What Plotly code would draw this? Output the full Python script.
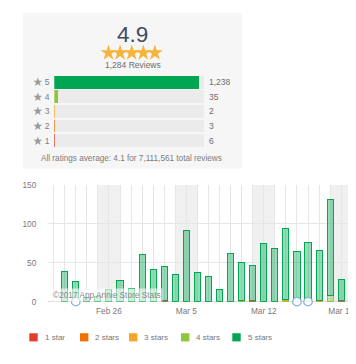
import plotly.graph_objects as go

# ---------------- data ----------------
avg_rating = 4.9
avg_rating_text = "4.9"
reviews_text = "1,284 Reviews"
star_levels = [5, 4, 3, 2, 1]
star_counts = [1238, 35, 2, 3, 6]
star_count_labels = ["1,238", "35", "2", "3", "6"]
total_reviews = 1284
footer_text = "All ratings average: 4.1 for 7,111,561 total reviews"

days = ["2017-02-22", "2017-02-23", "2017-02-24", "2017-02-25", "2017-02-26",
        "2017-02-27", "2017-02-28", "2017-03-01", "2017-03-02", "2017-03-03",
        "2017-03-04", "2017-03-05", "2017-03-06", "2017-03-07", "2017-03-08",
        "2017-03-09", "2017-03-10", "2017-03-11", "2017-03-12", "2017-03-13",
        "2017-03-14", "2017-03-15", "2017-03-16", "2017-03-17", "2017-03-18",
        "2017-03-19", "2017-03-20"]
one_star = [0, 0, 0, 0, 0, 0, 0, 0, 0, 1, 0, 0, 0, 0, 0, 0, 0, 1, 0, 0, 0, 0, 0, 0, 0, 2, 0]
two_stars = [0, 0, 0, 0, 0, 0, 0, 0, 0, 0, 0, 0, 0, 0, 0, 0, 0, 1, 0, 0, 0, 0, 0, 0, 0, 0, 0]
three_stars = [0, 0, 0, 0, 0, 0, 0, 0, 0, 0, 0, 0, 0, 0, 0, 0, 0, 0, 0, 0, 1, 0, 0, 1, 0, 0, 0]
four_stars = [0, 0, 0, 0, 0, 0, 0, 0, 0, 0, 0, 0, 0, 0, 0, 0, 2, 0, 0, 0, 2, 0, 0, 1, 8, 0, 0]
five_stars = [39, 26, 5, 6, 15, 27, 17, 61, 41, 44, 35, 92, 37, 32, 15, 62, 48, 45, 75, 69,
              91, 64, 76, 64, 124, 26, 2]
series_names = ["1 star", "2 stars", "3 stars", "4 stars", "5 stars"]
series_values = [one_star, two_stars, three_stars, four_stars, five_stars]

weekend_starts = ["2017-02-25", "2017-03-04", "2017-03-11", "2017-03-18"]
weekend_ends = ["2017-02-27", "2017-03-06", "2017-03-13", "2017-03-20"]
event_dates = ["2017-02-23", "2017-03-15", "2017-03-16"]

x_tick_vals = ["2017-02-26", "2017-03-05", "2017-03-12", "2017-03-19"]
x_tick_labels = ["Feb 26", "Mar 5", "Mar 12", "Mar 19"]
y_tick_vals = [0, 50, 100, 150]

# ---------------- style ----------------
W, H = 356, 364
OFF = 8  # page body margin in the browser
FW, FH = W - OFF, H - OFF
FONT = "Liberation Sans, Arial, sans-serif"
colors = ["#e0402a", "#f07000", "#f6a623", "#8dc63f", "#00a651"]
fills = ["rgba(224,64,42,0.45)", "rgba(240,112,0,0.45)", "rgba(246,166,35,0.45)",
         "rgba(141,198,63,0.45)", "rgba(0,170,85,0.42)"]
level_color = {5: "#00a651", 4: "#8dc63f", 3: "#f6a623", 2: "#f07000", 1: "#e0402a"}


def px(x):
    return (x - OFF) / FW


def py(y):
    return 1 - (y - OFF) / FH


fig = go.Figure()

# daily stacked bars
DAY_MS = 86400000
for name, vals, c, f in zip(series_names, series_values, colors, fills):
    fig.add_trace(go.Bar(
        x=days, y=vals, name=name, xaxis="x", yaxis="y",
        width=0.55 * DAY_MS,
        marker=dict(color=f, line=dict(color=c, width=1)),
        showlegend=False, hoverinfo="skip"))

# version events
fig.add_trace(go.Scatter(
    x=event_dates, y=[0] * len(event_dates), mode="markers", xaxis="x", yaxis="y",
    marker=dict(symbol="circle", size=8.5, color="rgba(255,255,255,0.9)",
                line=dict(color="#8ab0dc", width=1.3)),
    cliponaxis=False, showlegend=False, hoverinfo="skip"))

# rating distribution bars (colored part + remaining track)
fig.add_trace(go.Bar(
    x=star_counts, y=star_levels, orientation="h", xaxis="x2", yaxis="y2",
    width=0.88, marker=dict(color=[level_color[l] for l in star_levels], line=dict(width=0)),
    showlegend=False, hoverinfo="skip"))
fig.add_trace(go.Bar(
    x=[total_reviews - c for c in star_counts], y=star_levels, orientation="h",
    xaxis="x2", yaxis="y2", width=0.88,
    marker=dict(color="#ebebeb", line=dict(width=0)),
    showlegend=False, hoverinfo="skip"))

# rating stars (rounded average)
n_stars = int(round(avg_rating))
fig.add_trace(go.Scatter(
    x=list(range(1, n_stars + 1)), y=[0] * n_stars, mode="markers",
    xaxis="x3", yaxis="y3",
    marker=dict(symbol="star", size=12, color="#f6b43a", line=dict(width=0)),
    cliponaxis=False, showlegend=False, hoverinfo="skip"))

shapes = []
# panel background
shapes.append(dict(type="rect", xref="paper", yref="paper", x0=px(23), x1=px(242),
                   y0=py(168), y1=py(8), fillcolor="#f6f6f6", line=dict(width=0),
                   layer="below"))
# weekend shading
for s, e in zip(weekend_starts, weekend_ends):
    shapes.append(dict(type="rect", xref="x", yref="y domain", x0=s, x1=e, y0=0, y1=1,
                       fillcolor="#f0f0f0", line=dict(width=0), layer="below"))


def ann(text, x, y, size, color, family=FONT, xanchor="center", **kw):
    d = dict(text=text, x=px(x), y=py(y), xref="paper", yref="paper",
             xanchor=xanchor, yanchor="middle", showarrow=False,
             font=dict(family=family, size=size, color=color))
    d.update(kw)
    return d


annotations = [
    ann(avg_rating_text, 132.5, 30.0, 22.5, "#3d4b5c"),
    ann(reviews_text, 132.5, 61.2, 8.5, "#6e6e6e"),
    ann(footer_text, 131.5, 157.5, 8.2, "#7c7c7c"),
    ann("©2017 App Annie Store Stats", 51, 298, 8.3, "#8a8a8a", xanchor="left",
        bgcolor="rgba(255,255,255,0.6)", borderpad=1),
]
for lvl, lab in zip(star_levels, star_count_labels):
    annotations.append(dict(text=lab, x=total_reviews, y=lvl, xref="x2", yref="y2",
                            xanchor="left", yanchor="middle", xshift=3, showarrow=False,
                            font=dict(family=FONT, size=8.5, color="#6e6e6e")))

# custom legend
legend_left = [29.3, 80, 129, 181, 232.3]
for left, name, c in zip(legend_left, series_names, colors):
    shapes.append(dict(type="rect", xref="paper", yref="paper", x0=px(left),
                       x1=px(left + 8.4), y0=py(345.9), y1=py(337.5), fillcolor=c,
                       line=dict(width=0)))
    annotations.append(ann(name, left + 13.2, 341.7, 8, "#777777", xanchor="left"))

star_ticks = ['<span style="color:#9a9a9a;font-family:Noto Sans CJK JP;font-size:9.5px">★</span> %d' % l
              for l in star_levels]

fig.update_layout(
    width=FW, height=FH, margin=dict(l=0, r=0, t=0, b=0),
    paper_bgcolor="white", plot_bgcolor="rgba(0,0,0,0)",
    barmode="stack", showlegend=False,
    font=dict(family=FONT, size=8.3, color="#7a7a7a"),
    shapes=shapes, annotations=annotations,
    xaxis=dict(domain=[px(48), 1], type="date", anchor="y",
               range=["2017-02-20 11:46", "2017-03-20 08:05"],
               tickvals=x_tick_vals, ticktext=x_tick_labels,
               ticks="outside", ticklen=1, tickcolor="rgba(0,0,0,0)",
               showgrid=True, gridcolor="#e6e6e6", gridwidth=1,
               minor=dict(dtick=DAY_MS, tick0="2017-02-20", showgrid=True,
                          gridcolor="#e6e6e6", gridwidth=1, ticks=""),
               zeroline=False, showline=False,
               tickfont=dict(family=FONT, size=8.3, color="#7a7a7a")),
    yaxis=dict(domain=[py(305), py(185)], range=[0, 150], anchor="x",
               tickvals=y_tick_vals, ticks="outside", ticklen=9,
               tickcolor="rgba(0,0,0,0)", showgrid=True, gridcolor="#e6e6e6",
               zeroline=True, zerolinecolor="#d9d9d9", zerolinewidth=1, showline=False,
               tickfont=dict(family=FONT, size=8.3, color="#7a7a7a")),
    xaxis2=dict(domain=[px(54.3), px(204)], range=[0, total_reviews], anchor="y2",
                visible=False, fixedrange=True),
    yaxis2=dict(domain=[py(146.8), py(71.8)], range=[0.5, 5.5], anchor="x2",
                tickvals=star_levels, ticktext=star_ticks, ticks="outside", ticklen=2,
                tickcolor="rgba(0,0,0,0)", showgrid=False, zeroline=False,
                showline=False,
                tickfont=dict(family=FONT, size=8.5, color="#7d7d7d")),
    xaxis3=dict(domain=[px(102.7), px(160.7)], range=[0.5, 5.5], anchor="y3",
                visible=False, fixedrange=True),
    yaxis3=dict(domain=[py(54), py(44)], range=[-1, 1], anchor="x3",
                visible=False, fixedrange=True),
)

fig.write_html("out.html")
